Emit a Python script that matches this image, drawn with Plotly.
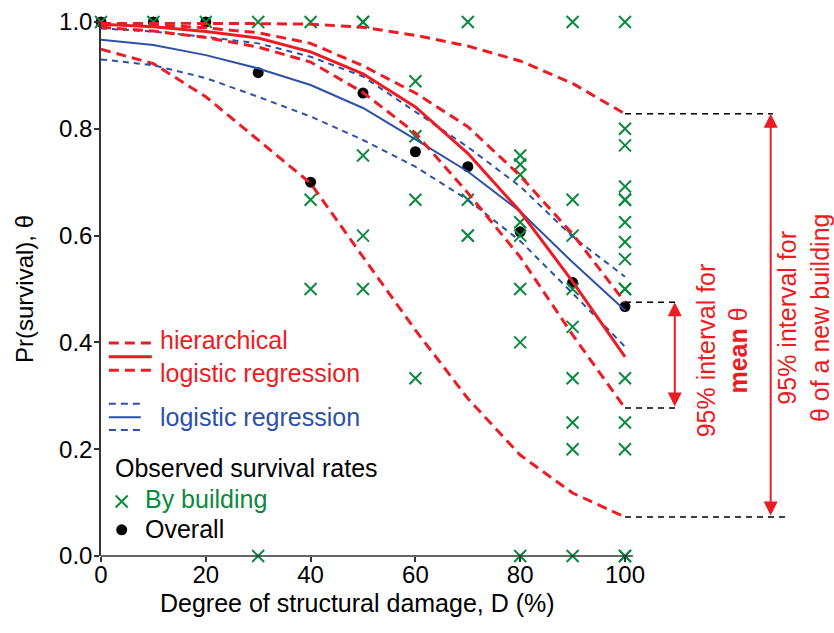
import plotly.graph_objects as go

# ---------------- data ----------------
damage = [0, 10, 20, 30, 40, 50, 60, 70, 80, 90, 100]

# observed survival rate by building (per damage level)
bld_0 = [1.0]
bld_10 = [1.0]
bld_20 = [1.0]
bld_30 = [1.0, 0.0]
bld_40 = [1.0, 0.667, 0.5]
bld_50 = [1.0, 1.0, 0.75, 0.6, 0.5]
bld_60 = [0.889, 0.786, 0.667, 0.333]
bld_70 = [1.0, 0.667, 0.6, 0.6]
bld_80 = [0.75, 0.733, 0.714, 0.625, 0.6, 0.5, 0.4, 0.0]
bld_90 = [1.0, 0.667, 0.6, 0.5, 0.429, 0.333, 0.25, 0.2, 0.0]
bld_100 = [1.0, 0.8, 0.769, 0.692, 0.667, 0.667, 0.625, 0.588, 0.556,
           0.5, 0.5, 0.333, 0.25, 0.2, 0.0, 0.0]
by_building = [bld_0, bld_10, bld_20, bld_30, bld_40, bld_50,
               bld_60, bld_70, bld_80, bld_90, bld_100]

# overall observed survival rate
overall = [1.0, 1.0, 1.0, 0.905, 0.70, 0.867, 0.757, 0.729, 0.607, 0.512, 0.467]

# hierarchical logistic regression
hier_mean = [0.996, 0.991, 0.982, 0.970, 0.944, 0.903, 0.841, 0.754, 0.645, 0.514, 0.373]
hier_mean_hi = [0.999, 0.995, 0.989, 0.980, 0.960, 0.918, 0.867, 0.804, 0.712, 0.603, 0.475]
hier_mean_lo = [0.990, 0.983, 0.971, 0.953, 0.925, 0.868, 0.792, 0.680, 0.560, 0.414, 0.277]
hier_pred_hi = [0.998, 0.998, 0.998, 0.997, 0.996, 0.990, 0.975, 0.955, 0.927, 0.885, 0.828]
hier_pred_lo = [0.949, 0.922, 0.860, 0.779, 0.698, 0.560, 0.423, 0.295, 0.189, 0.118, 0.073]

# ordinary logistic regression
logit_mean = [0.967, 0.957, 0.938, 0.913, 0.882, 0.839, 0.780, 0.720, 0.645, 0.550, 0.460]
logit_hi = [0.988, 0.982, 0.972, 0.960, 0.935, 0.898, 0.832, 0.766, 0.692, 0.598, 0.523]
logit_lo = [0.930, 0.919, 0.895, 0.860, 0.823, 0.779, 0.729, 0.667, 0.590, 0.492, 0.392]

RED = "#ED1C24"
BLUE = "#2D50A8"
GREEN = "#0B8A3E"
FONT = "Liberation Sans, Arial, sans-serif"

# ---------------- geometry ----------------
W, H = 834, 633
ML, MR, MT = 101, 0, 22
MB = H - MT - 534
PX_PER_UNIT = 5.24
XMAX = (W - ML - MR) / PX_PER_UNIT

fig = go.Figure()

# by-building crosses
bx, by = [], []
for d, vals in zip(damage, by_building):
    for v in vals:
        bx.append(d)
        by.append(v)

fig.add_trace(go.Scatter(x=damage, y=overall, mode="markers",
                         marker=dict(symbol="circle", size=11, color="black"),
                         cliponaxis=False, showlegend=False))
fig.add_trace(go.Scatter(x=bx, y=by, mode="markers",
                         marker=dict(symbol="x-thin", size=12,
                                     line=dict(width=2, color=GREEN)),
                         cliponaxis=False, showlegend=False))

blue_dash = "6px,5px"
red_dash = "10px,6px"
for ys in (logit_lo, logit_hi):
    fig.add_trace(go.Scatter(x=damage, y=ys, mode="lines",
                             line=dict(color=BLUE, width=2, dash=blue_dash),
                             showlegend=False))
fig.add_trace(go.Scatter(x=damage, y=logit_mean, mode="lines",
                         line=dict(color=BLUE, width=2), showlegend=False))

for ys in (hier_pred_lo, hier_pred_hi, hier_mean_lo, hier_mean_hi):
    fig.add_trace(go.Scatter(x=damage, y=ys, mode="lines",
                             line=dict(color=RED, width=3, dash=red_dash),
                             showlegend=False))
fig.add_trace(go.Scatter(x=damage, y=hier_mean, mode="lines",
                         line=dict(color=RED, width=3), showlegend=False))

# reference dashed lines at D = 100 for the interval ends
x_end = damage[-1]
ref_lines = [(hier_pred_hi[-1], 128.2), (hier_mean_hi[-1], 109.9),
             (hier_mean_lo[-1], 109.9), (hier_pred_lo[-1], 130.9)]
for yv, xr in ref_lines:
    fig.add_trace(go.Scatter(x=[x_end, xr], y=[yv, yv], mode="lines",
                             line=dict(color="black", width=1.5, dash="6px,5px"),
                             showlegend=False))

annotations = []
# double arrows
for xa, y_top, y_bot in [(109.5, hier_mean_hi[-1], hier_mean_lo[-1]),
                         (127.8, hier_pred_hi[-1], hier_pred_lo[-1])]:
    annotations.append(dict(x=xa, y=y_top, ax=xa, ay=y_bot, xref="x", yref="y",
                            axref="x", ayref="y", text="", showarrow=True,
                            arrowhead=2, startarrowhead=2, arrowside="end+start",
                            arrowsize=1.4, startarrowsize=1.4, arrowwidth=2,
                            arrowcolor=RED, standoff=0, startstandoff=0))

annotations.append(dict(x=118.6, y=0.386, xref="x", yref="y",
                        text="95% interval for<br><b>mean</b> θ",
                        textangle=-90, showarrow=False, align="center",
                        xanchor="center", yanchor="middle",
                        font=dict(family=FONT, size=25, color=RED)))
annotations.append(dict(x=134.2, y=0.446, xref="x", yref="y",
                        text="95% interval for<br>θ of a new building",
                        textangle=-90, showarrow=False, align="center",
                        xanchor="center", yanchor="middle",
                        font=dict(family=FONT, size=25, color=RED)))

# custom legend
legend_texts = [
    ("hierarchical", 10.9, 0.404, RED),
    ("logistic regression", 10.9, 0.343, RED),
    ("logistic regression", 10.9, 0.260, BLUE),
    ("Observed survival rates", 2.3, 0.165, "black"),
    ("By building", 8.0, 0.107, GREEN),
    ("Overall", 8.0, 0.051, "black"),
]
for txt, lx, ly, col in legend_texts:
    annotations.append(dict(x=lx, y=ly, xref="x", yref="y", text=txt,
                            showarrow=False, xanchor="left", yanchor="middle",
                            font=dict(family=FONT, size=25, color=col)))

fig.add_trace(go.Scatter(x=[3.95], y=[0.102], mode="markers",
                         marker=dict(symbol="x-thin", size=12,
                                     line=dict(width=2, color=GREEN)),
                         showlegend=False))
fig.add_trace(go.Scatter(x=[3.95], y=[0.049], mode="markers",
                         marker=dict(symbol="circle", size=11, color="black"),
                         showlegend=False))

shapes = []
for yv, dash in [(0.399, red_dash), (0.373, None), (0.348, red_dash)]:
    shapes.append(dict(type="line", xref="x", yref="y", x0=1.5, x1=9.7,
                       y0=yv, y1=yv,
                       line=dict(color=RED, width=3, dash=dash or "solid")))
for yv, dash in [(0.285, "7px,5px"), (0.260, None), (0.236, "7px,5px")]:
    shapes.append(dict(type="line", xref="x", yref="y", x0=1.5, x1=7.6,
                       y0=yv, y1=yv,
                       line=dict(color=BLUE, width=2, dash=dash or "solid")))

# x axis line (only spanning the data range)
shapes.append(dict(type="line", xref="x", yref="paper", x0=0, x1=101.5,
                   y0=0, y1=0, line=dict(color="#333333", width=1.5)))

# x-axis title centred under the data range
annotations.append(dict(x=49, y=-0.088, xref="x", yref="paper",
                        text="Degree of structural damage, D (%)",
                        showarrow=False, xanchor="center", yanchor="middle",
                        font=dict(family=FONT, size=25, color="black")))

fig.update_layout(
    width=W, height=H,
    margin=dict(l=ML, r=MR, t=MT, b=MB),
    paper_bgcolor="white", plot_bgcolor="white",
    font=dict(family=FONT, size=24, color="black"),
    annotations=annotations, shapes=shapes,
    xaxis=dict(range=[0, XMAX], tickvals=[0, 20, 40, 60, 80, 100],
               ticks="outside", ticklen=5, tickwidth=1.5, tickcolor="#333333",
               showline=False, showgrid=False, zeroline=False, automargin=False,
               ticklabelstandoff=-8,
               tickfont=dict(family=FONT, size=24, color="black")),
    yaxis=dict(range=[0, 1], tickvals=[0, 0.2, 0.4, 0.6, 0.8, 1.0],
               tickformat=".1f", ticks="outside", ticklen=5, tickwidth=1.5,
               tickcolor="#333333", showline=True, linecolor="#333333",
               linewidth=1.5, showgrid=False, zeroline=False, automargin=False,
               ticklabelstandoff=-3,
               tickfont=dict(family=FONT, size=24, color="black"),
               title=dict(text="Pr(survival), θ", standoff=19,
                          font=dict(family=FONT, size=24, color="black"))),
)

fig.write_html(
    "out.html",
    config={"displayModeBar": False},
    post_script="document.body.style.margin='0';"
                "document.body.style.overflow='hidden';",
)
